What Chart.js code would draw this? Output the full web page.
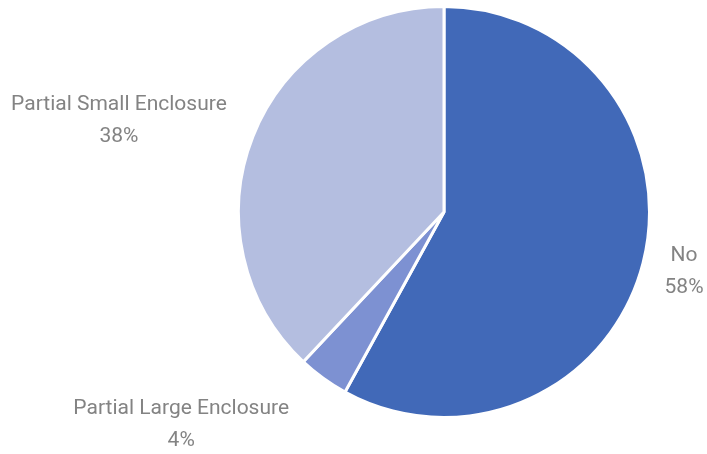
<!DOCTYPE html>
<html>
<head>
<meta charset="utf-8">
<script src="https://cdn.jsdelivr.net/npm/chart.js@4.4.1/dist/chart.umd.min.js"></script>
<style>
  html, body { margin: 0; padding: 0; background: #fff; }
  #wrap { width: 707px; height: 454px; }
</style>
</head>
<body>
<div id="wrap"><canvas id="pie"></canvas></div>
<script>
// enclosure answers
const categories = ['No', 'Partial Large Enclosure', 'Partial Small Enclosure'];
const shares = [58, 4, 38];
const sliceColors = ['#4169b8', '#7d91d2', '#b4bee0'];

// where each label sits relative to the outer middle of its slice
const labelOffsets = [[41, 9], [-142, 46], [-134, -16]];

const outsideLabels = {
    id: 'outsideLabels',
    afterDatasetsDraw(chart) {
        const ctx = chart.ctx;
        const meta = chart.getDatasetMeta(0);
        const total = shares.reduce((a, b) => a + b, 0);
        ctx.save();
        ctx.font = '21px Roboto';
        ctx.fillStyle = '#838383';
        ctx.textAlign = 'center';
        ctx.textBaseline = 'middle';
        meta.data.forEach((arc, i) => {
            const mid = (arc.startAngle + arc.endAngle) / 2;
            const x = arc.x + Math.cos(mid) * arc.outerRadius + labelOffsets[i][0];
            const y = arc.y + Math.sin(mid) * arc.outerRadius + labelOffsets[i][1];
            const pct = Math.round(shares[i] / total * 100) + '%';
            ctx.fillText(categories[i], x, y - 16);
            ctx.fillText(pct, x, y + 16);
        });
        ctx.restore();
    }
};

new Chart(document.getElementById('pie'), {
    type: 'pie',
    data: {
        labels: categories,
        datasets: [{
            data: shares,
            backgroundColor: sliceColors,
            borderColor: '#ffffff',
            borderWidth: 3
        }]
    },
    options: {
        responsive: true,
        maintainAspectRatio: false,
        animation: false,
        layout: {
            padding: { left: 237, right: 56, top: 5, bottom: 35 }
        },
        plugins: {
            legend: { display: false },
            tooltip: { enabled: false }
        }
    },
    plugins: [outsideLabels]
});
</script>
</body>
</html>
